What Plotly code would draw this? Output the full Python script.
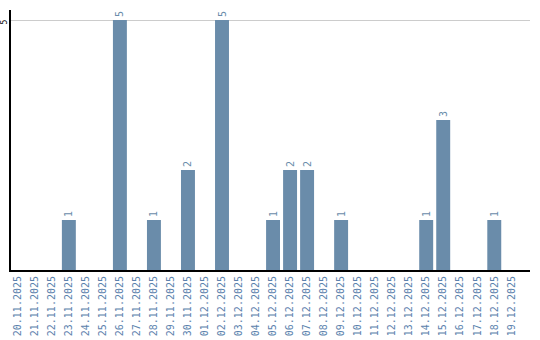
import plotly.graph_objects as go

dates = ["20.11.2025", "21.11.2025", "22.11.2025", "23.11.2025", "24.11.2025", "25.11.2025",
         "26.11.2025", "27.11.2025", "28.11.2025", "29.11.2025", "30.11.2025", "01.12.2025",
         "02.12.2025", "03.12.2025", "04.12.2025", "05.12.2025", "06.12.2025", "07.12.2025",
         "08.12.2025", "09.12.2025", "10.12.2025", "11.12.2025", "12.12.2025", "13.12.2025",
         "14.12.2025", "15.12.2025", "16.12.2025", "17.12.2025", "18.12.2025", "19.12.2025"]
counts = [0, 0, 0, 1, 0, 0, 5, 0, 1, 0, 2, 0, 5, 0, 0, 1, 2, 2, 0, 1, 0, 0, 0, 0, 1, 3, 0, 0, 1, 0]
y_ticks = [5]

labels = [str(v) if v > 0 else "" for v in counts]

fig = go.Figure(go.Bar(
    x=dates, y=counts,
    marker=dict(color="#6a8caa", line=dict(width=0)),
    text=labels, textposition="outside", textangle=-90, cliponaxis=False,
    textfont=dict(family="DejaVu Sans Mono", size=10, color="#6a8caa"),
))

for t in y_ticks:
    fig.add_annotation(
        x=0, xref="paper", xanchor="right", xshift=-1,
        y=t, yref="y", yanchor="middle", yshift=-2,
        text=str(t), textangle=-90, showarrow=False,
        font=dict(family="DejaVu Sans Mono", size=8, color="black"),
    )

fig.update_layout(
    width=540, height=340,
    margin=dict(l=11, r=10, t=10, b=70),
    paper_bgcolor="white", plot_bgcolor="white",
    bargap=0.18, showlegend=False,
    xaxis=dict(
        type="category", tickangle=-90, showgrid=False, ticks="", automargin=False,
        range=[-0.4, len(dates) + 0.1],
        tickfont=dict(family="DejaVu Sans Mono", size=10, color="#5b82ad"),
        showline=True, linecolor="black", linewidth=2,
    ),
    yaxis=dict(
        range=[0, 5.2], tickvals=y_ticks, showticklabels=False, automargin=False,
        showgrid=True, gridcolor="#cccccc", gridwidth=1, zeroline=False,
        showline=True, linecolor="black", linewidth=2, ticks="",
    ),
)

fig.write_html("out.html")
